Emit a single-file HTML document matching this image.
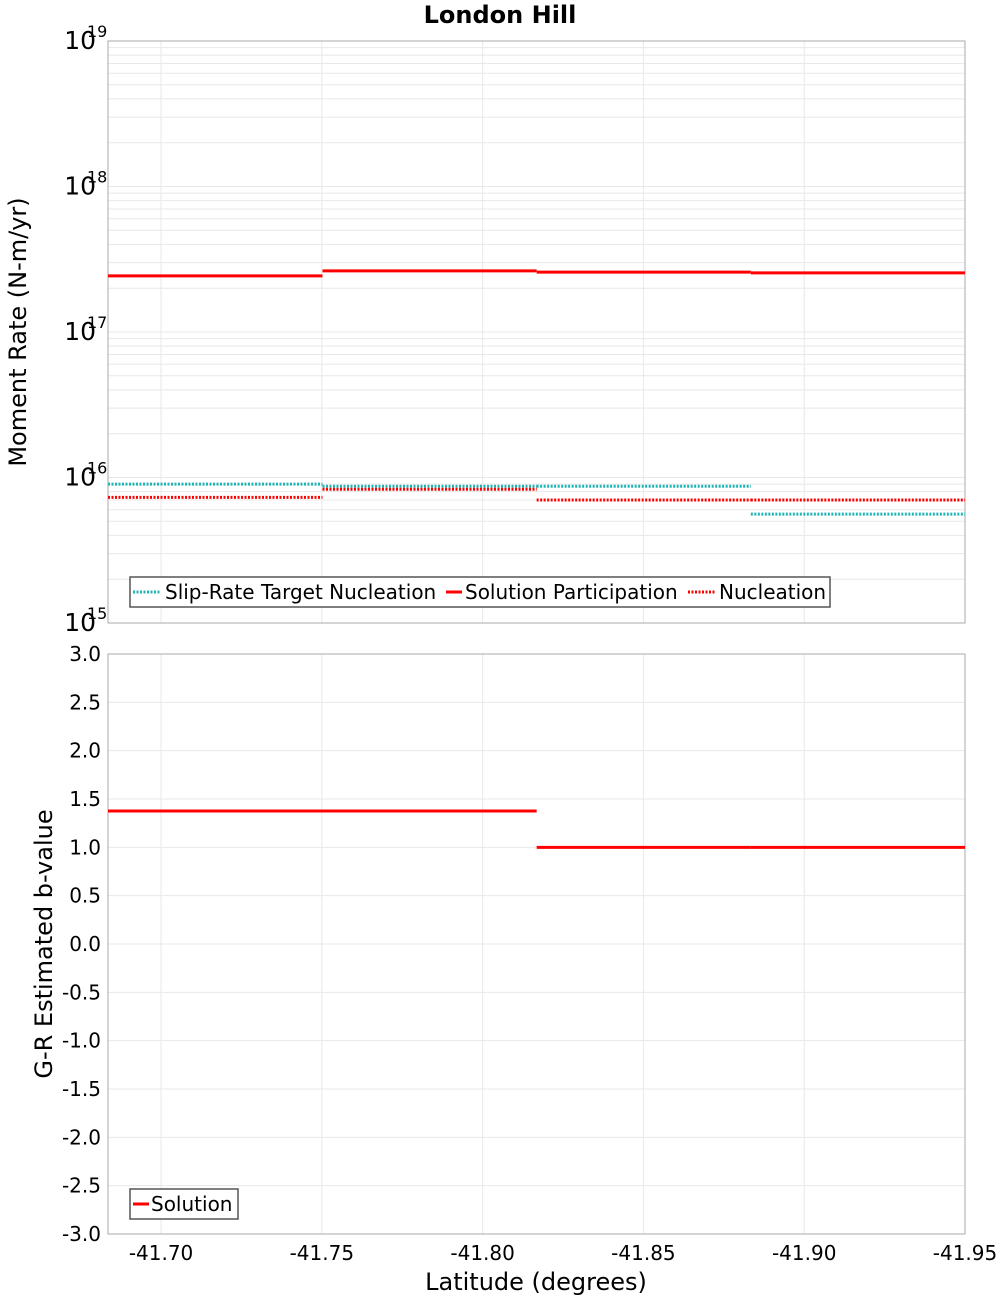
<!DOCTYPE html>
<html><head><meta charset="utf-8"><style>
body{margin:0;background:#fff}
svg{display:block;font-family:"DejaVu Sans","Liberation Sans",sans-serif}
</style></head><body>
<svg id="c" width="1000" height="1300"></svg>
<script>
const binEdges=[-41.6835,-41.7502,-41.8168,-41.8834,-41.95];
const targetNucleation=[9.0e15,8.7e15,8.7e15,5.6e15];
const solutionParticipation=[2.43e17,2.63e17,2.58e17,2.55e17];
const nucleation=[7.3e15,8.3e15,7.0e15,7.0e15];
const bValues=[1.376,1.376,1.0,1.0];
const xTicks=[-41.70,-41.75,-41.80,-41.85,-41.90,-41.95];
const bTicks=[3,2.5,2,1.5,1,0.5,0,-0.5,-1,-1.5,-2,-2.5,-3];
const logTicks=[15,16,17,18,19];

const S="http://www.w3.org/2000/svg",svg=document.getElementById('c');
function el(t,a,p){const e=document.createElementNS(S,t);for(const k in a)e.setAttribute(k,a[k]);(p||svg).appendChild(e);return e;}
const L=108,R=965,T1=41,B1=623,T2=654,B2=1234;
const x=v=>L+(v-binEdges[0])/(binEdges[4]-binEdges[0])*(R-L);
const y1=v=>B1-(Math.log10(v)-15)/4*(B1-T1);
const y2=v=>B2-(v+3)/6*(B2-T2);

let t=el('text',{x:500,y:23,'text-anchor':'middle','font-size':24,'font-weight':'bold'});t.textContent='London Hill';


const g1=el('g',{});
for(let d=15;d<19;d++)for(let m=1;m<=9;m++){const yy=y1(m*Math.pow(10,d));el('line',{x1:L,x2:R,y1:yy,y2:yy,stroke:'#e8e8e8'},g1);}
xTicks.forEach(v=>{el('line',{x1:x(v),x2:x(v),y1:T1,y2:B1,stroke:'#e8e8e8'},g1);el('line',{x1:x(v),x2:x(v),y1:T2,y2:B2,stroke:'#e8e8e8'},g1);});
bTicks.forEach(v=>el('line',{x1:L,x2:R,y1:y2(v),y2:y2(v),stroke:'#e8e8e8'},g1));
el('rect',{x:L,y:T1,width:R-L,height:B1-T1,fill:'none',stroke:'#aaa'});
el('rect',{x:L,y:T2,width:R-L,height:B2-T2,fill:'none',stroke:'#aaa'});

logTicks.forEach(d=>{const tt=el('text',{x:96,y:y1(Math.pow(10,d))+8,'text-anchor':'end','font-size':25});tt.textContent='10';

const s=el('text',{x:87,y:y1(Math.pow(10,d))-4,'font-size':16});s.textContent=String(d);});
bTicks.forEach(v=>{const tt=el('text',{x:101,y:y2(v)+7,'text-anchor':'end','font-size':20});tt.textContent=v.toFixed(1);
});
xTicks.forEach(v=>{const tt=el('text',{x:x(v),y:1260,'text-anchor':'middle','font-size':20});tt.textContent=v.toFixed(2);
});

t=el('text',{transform:'translate(26,332) rotate(-90)','text-anchor':'middle','font-size':24});t.textContent='Moment Rate (N-m/yr)';

t=el('text',{transform:'translate(52,944) rotate(-90)','text-anchor':'middle','font-size':24});t.textContent='G-R Estimated b-value';

t=el('text',{x:536,y:1290,'text-anchor':'middle','font-size':24});t.textContent='Latitude (degrees)';


function steps(vals,yf,color,dash,name){for(let i=0;i<vals.length;i++){const ln=el('line',{x1:x(binEdges[i]),x2:x(binEdges[i+1]),y1:yf(vals[i]),y2:yf(vals[i]),stroke:color,'stroke-width':3,'stroke-dasharray':dash||''});
}}
steps(targetNucleation,y1,'#1fb5b5','2,1.5','target-nucleation-segment');
steps(nucleation,y1,'#ff0000','2,1.5','nucleation-segment');
steps(solutionParticipation,y1,'#ff0000','','solution-participation-segment');
steps(bValues,y2,'#ff0000','','b-value-segment');

let lg=el('g',{});
el('rect',{x:130,y:577,width:700,height:30,fill:'#fff',stroke:'#555','stroke-width':1.5},lg);
el('line',{x1:133,x2:161,y1:592,y2:592,stroke:'#1fb5b5','stroke-width':3,'stroke-dasharray':'2,1.5'},lg);
t=el('text',{x:165,y:599,'font-size':20},lg);t.textContent='Slip-Rate Target Nucleation';
el('line',{x1:446,x2:462,y1:592,y2:592,stroke:'#f00','stroke-width':3},lg);
t=el('text',{x:465,y:599,'font-size':20},lg);t.textContent='Solution Participation';
el('line',{x1:688,x2:716,y1:592,y2:592,stroke:'#f00','stroke-width':3,'stroke-dasharray':'2,1.5'},lg);
t=el('text',{x:719,y:599,'font-size':20},lg);t.textContent='Nucleation';
lg=el('g',{});
el('rect',{x:130,y:1189,width:108,height:30,fill:'#fff',stroke:'#555','stroke-width':1.5},lg);
el('line',{x1:133,x2:149,y1:1204,y2:1204,stroke:'#f00','stroke-width':3},lg);
t=el('text',{x:151,y:1211,'font-size':20},lg);t.textContent='Solution';
</script>
</body></html>
